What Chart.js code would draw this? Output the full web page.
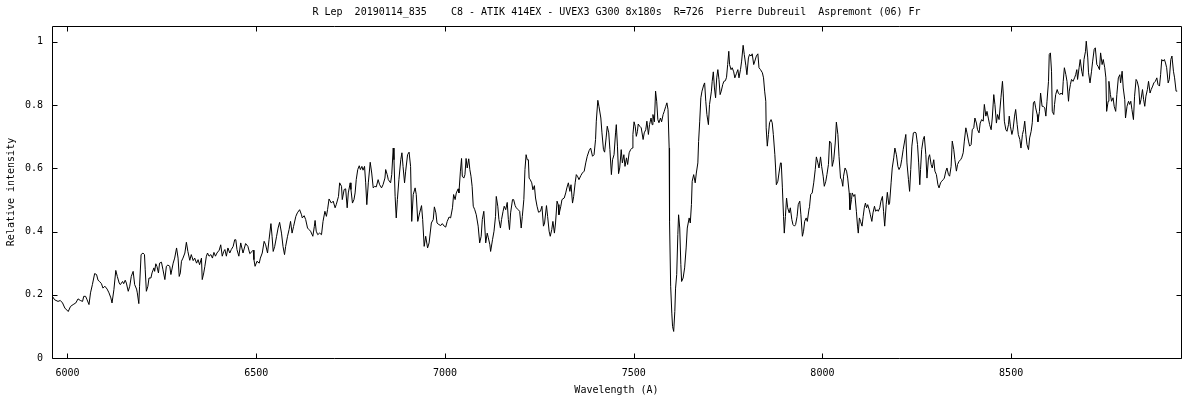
<!DOCTYPE html>
<html>
<head>
<meta charset="utf-8">
<title>R Lep spectrum</title>
<script src="https://cdn.jsdelivr.net/npm/chart.js@4.4.1/dist/chart.umd.min.js"></script>
<style>
    body { margin: 0; background: #fff; }
    #box { width: 1200px; height: 400px; }
</style>
</head>
<body>
<div id="box"><canvas id="spec" width="1200" height="400"></canvas></div>
<script>
    // 标题 / axis texts
    var chartTitle = 'R Lep  20190114_835    C8 - ATIK 414EX - UVEX3 G300 8x180s  R=726  Pierre Dubreuil  Aspremont (06) Fr';
    var xTitle = 'Wavelength (A)';
    var yTitle = 'Relative intensity';
    var xTickValues = [6000, 6500, 7000, 7500, 8000, 8500];
    var xTickLabels = ['6000', '6500', '7000', '7500', '8000', '8500'];
    var yTickValues = [0, 0.2, 0.4, 0.6, 0.8, 1];
    var yTickLabels = ['0', '0.2', '0.4', '0.6', '0.8', '1'];

    // spectrum in six pieces (wavelength A / relative intensity)
    var wave1 = [5960,5966,5975,5981,5987,5993,6002,6008,6015,6022,
        6028,6034,6040,6043,6048,6052,6057,6061,6066,6072,
        6077,6081,6085,6090,6094,6099,6105,6110,6115,6118,
        6123,6128,6132,6137,6140,6146,6149,6153,6156,6161,
        6165,6169,6174,6178,6183,6185,6189,6191,6195,6200,
        6204,6206,6209,6213,6216,6221,6224,6229,6231,6234,
        6237,6241,6244,6249,6253,6258,6262,6266,6271,6274,
        6280,6284,6289,6293,6296,6299,6302,6306,6311,6315,
        6319,6324,6328,6333,6337,6342,6346,6350,6355,6357,
        6361,6364,6368,6371,6375,6380,6384,6388,6392,6396,
        6402,6406,6410,6414,6417,6421,6425,6430,6434,6439,
        6443,6446,6449,6454];
    var flux1 = [0.195,0.184,0.179,0.182,0.174,0.158,0.147,0.163,0.169,0.174,
        0.187,0.182,0.179,0.195,0.195,0.184,0.169,0.206,0.232,0.267,
        0.264,0.246,0.242,0.235,0.221,0.227,0.218,0.206,0.190,0.174,
        0.216,0.277,0.258,0.237,0.232,0.242,0.235,0.246,0.237,0.211,
        0.227,0.258,0.274,0.232,0.218,0.206,0.172,0.227,0.327,0.332,
        0.327,0.279,0.211,0.227,0.253,0.253,0.269,0.285,0.274,0.298,
        0.290,0.269,0.300,0.303,0.279,0.248,0.290,0.294,0.290,0.264,
        0.300,0.316,0.348,0.316,0.258,0.269,0.306,0.316,0.332,0.366,
        0.337,0.309,0.327,0.308,0.316,0.300,0.311,0.295,0.316,0.248,
        0.269,0.290,0.322,0.332,0.322,0.327,0.316,0.334,0.322,0.332,
        0.341,0.358,0.322,0.337,0.343,0.322,0.348,0.332,0.343,0.353,
        0.374,0.374,0.343,0.322];

    var wave2 = [6459,6465,6472,6478,6483,6489,6492,6494,6497,6502,
        6508,6511,6516,6521,6525,6530,6534,6539,6542,6545,
        6549,6554,6558,6562,6567,6571,6575,6578,6583,6587,
        6591,6595,6599,6605,6609,6615,6620,6622,6627,6631,
        6636,6640,6644,6650,6654,6656,6659,6663,6668,6673,
        6677,6682,6686,6689,6693,6699,6704,6709,6712,6718,
        6721,6726,6728,6733,6737,6741,6744,6749,6751,6755,
        6759,6762,6765,6769,6773,6776,6780,6783,6787,6790,
        6793,6797,6802,6806,6810,6814,6818,6823,6827,6832,
        6836,6841,6843,6847,6850,6856,6859,6863,6865,6868,
        6871,6874,6878,6883,6886,6889,6893,6896,6901,6905,
        6909,6912,6916,6921,6924,6928,6933,6938,6941,6945,
        6949,6954,6958];
    var flux2 = [0.364,0.332,0.362,0.353,0.330,0.337,0.341,0.311,0.290,0.306,
        0.300,0.316,0.332,0.369,0.358,0.332,0.374,0.425,0.385,0.337,
        0.353,0.385,0.411,0.429,0.395,0.353,0.327,0.353,0.385,0.406,
        0.432,0.395,0.416,0.448,0.459,0.469,0.453,0.443,0.450,0.438,
        0.411,0.406,0.401,0.385,0.416,0.435,0.401,0.390,0.395,0.390,
        0.432,0.464,0.448,0.469,0.503,0.490,0.496,0.475,0.485,0.511,
        0.554,0.543,0.501,0.533,0.535,0.475,0.522,0.554,0.533,0.490,
        0.501,0.522,0.564,0.596,0.608,0.596,0.606,0.594,0.606,0.554,
        0.485,0.554,0.619,0.585,0.538,0.543,0.541,0.564,0.548,0.538,
        0.548,0.569,0.596,0.580,0.564,0.554,0.580,0.664,0.627,0.511,
        0.443,0.501,0.564,0.627,0.649,0.606,0.554,0.591,0.643,0.651,
        0.606,0.432,0.517,0.538,0.517,0.432,0.459,0.482,0.438,0.353,
        0.385,0.348,0.364];

    var wave3 = [6960,6964,6969,6972,6976,6979,6984,6989,6993,6998,
        7002,7006,7011,7015,7020,7023,7027,7030,7035,7037,
        7041,7044,7046,7050,7053,7056,7059,7063,7066,7069,
        7072,7075,7079,7083,7088,7092,7096,7099,7103,7105,
        7108,7112,7115,7119,7121,7126,7130,7134,7136,7140,
        7143,7147,7150,7154,7157,7161,7165,7168,7171,7174,
        7179,7182,7186,7189,7194,7198,7202,7205,7209,7212,
        7215,7218,7221,7223,7226,7230,7233,7237,7240,7244,
        7248,7253,7257,7261,7264,7269,7272,7276,7279,7283,
        7286,7290,7293,7297,7300,7302,7307,7310,7316,7320,
        7323,7327,7331,7334,7338,7341,7345,7348,7352,7355,
        7360,7364,7369,7373,7377,7382,7386,7391,7395,7399,
        7401,7405,7408,7413,7416,7420,7423,7427,7430,7434,
        7437,7441,7444,7448,7452,7454,7457,7460];
    var flux3 = [0.364,0.427,0.438,0.478,0.459,0.427,0.422,0.419,0.425,0.417,
        0.414,0.432,0.446,0.443,0.475,0.517,0.501,0.522,0.535,0.522,
        0.591,0.631,0.575,0.569,0.580,0.631,0.601,0.630,0.596,0.575,
        0.543,0.480,0.469,0.453,0.417,0.364,0.385,0.438,0.464,0.427,
        0.364,0.395,0.380,0.358,0.337,0.374,0.401,0.448,0.511,0.480,
        0.438,0.411,0.438,0.464,0.480,0.469,0.492,0.438,0.406,0.459,
        0.501,0.501,0.482,0.475,0.469,0.464,0.411,0.448,0.501,0.596,
        0.643,0.627,0.627,0.569,0.564,0.554,0.532,0.545,0.506,0.480,
        0.461,0.464,0.480,0.417,0.427,0.482,0.448,0.401,0.385,0.406,
        0.432,0.395,0.427,0.496,0.485,0.453,0.480,0.501,0.506,0.522,
        0.538,0.554,0.527,0.548,0.490,0.511,0.554,0.580,0.573,0.564,
        0.577,0.585,0.591,0.617,0.638,0.656,0.664,0.638,0.643,0.691,
        0.749,0.815,0.796,0.759,0.712,0.659,0.651,0.696,0.733,0.712,
        0.659,0.580,0.627,0.643,0.712,0.738,0.670,0.583];

    var wave4 = [7463,7467,7470,7474,7477,7481,7484,7488,7492,7496,
        7498,7501,7504,7507,7510,7512,7516,7520,7525,7528,
        7532,7535,7539,7542,7546,7549,7551,7555,7558,7561,
        7564,7567,7571,7574,7578,7581,7585,7588,7591,7594,
        7595,7598,7601,7603,7606,7609,7611,7614,7617,7619,
        7622,7625,7627,7631,7635,7639,7642,7647,7650,7653,
        7655,7659,7663,7666,7670,7672,7675,7678,7681,7686,
        7688,7691,7694,7698,7701,7706,7708,7711,7714,7717,
        7720,7723,7726,7729,7732,7736,7739,7743,7746,7749,
        7752,7754,7758,7761,7765,7768,7772,7776,7779,7783,
        7786,7790,7793,7797,7800,7804,7807,7811,7814,7818,
        7821,7825,7829,7832,7836,7841,7844,7847,7850,7851,
        7854,7857,7860,7864,7867,7870,7874,7876,7878,7882,
        7885,7889,7891,7894,7897,7899,7902,7905,7908,7912,
        7915,7919,7922,7926,7929,7933,7936,7940,7943,7947,
        7950,7953,7957,7960,7965];
    var flux4 = [0.601,0.659,0.617,0.643,0.606,0.633,0.612,0.649,0.659,0.664,
        0.707,0.747,0.733,0.701,0.717,0.740,0.733,0.728,0.691,0.712,
        0.722,0.749,0.707,0.738,0.759,0.738,0.770,0.747,0.844,0.812,
        0.754,0.744,0.759,0.747,0.770,0.780,0.796,0.807,0.786,0.664,
        0.432,0.227,0.142,0.100,0.084,0.147,0.221,0.264,0.390,0.453,
        0.411,0.295,0.242,0.253,0.285,0.348,0.411,0.443,0.427,0.485,
        0.559,0.580,0.554,0.585,0.617,0.685,0.749,0.823,0.844,0.865,
        0.870,0.812,0.770,0.738,0.802,0.844,0.875,0.905,0.854,0.823,
        0.886,0.912,0.881,0.833,0.844,0.865,0.875,0.877,0.888,0.928,
        0.970,0.928,0.912,0.918,0.905,0.886,0.899,0.912,0.886,0.912,
        0.939,0.989,0.960,0.926,0.896,0.949,0.960,0.955,0.962,0.928,
        0.939,0.955,0.962,0.918,0.912,0.902,0.886,0.844,0.812,0.728,
        0.670,0.707,0.744,0.754,0.744,0.707,0.643,0.601,0.548,0.559,
        0.585,0.617,0.617,0.538,0.448,0.395,0.448,0.506,0.475,0.459,
        0.475,0.438,0.422,0.417,0.422,0.448,0.485,0.496,0.453,0.385,
        0.401,0.432,0.443,0.432,0.475];

    var wave5 = [7966,7969,7973,7977,7981,7984,7988,7991,7995,7998,
        8002,8005,8009,8012,8016,8019,8023,8026,8030,8034,
        8037,8041,8044,8048,8051,8054,8056,8060,8064,8067,
        8071,8073,8077,8079,8083,8086,8090,8093,8095,8098,
        8101,8105,8108,8111,8114,8117,8120,8124,8127,8131,
        8134,8138,8141,8145,8148,8152,8155,8159,8162,8165,
        8169,8172,8176,8178,8182,8185,8189,8192,8196,8200,
        8203,8207,8210,8214,8217,8221,8224,8228,8231,8234,
        8237,8241,8245,8248,8252,8255,8258,8260,8263,8267,
        8270,8274,8277,8281,8284,8288,8291,8295,8298,8302,
        8306,8309,8313,8316,8320,8323,8327,8330,8334,8337,
        8341,8344,8348,8351,8355,8358,8362,8366,8369,8373,
        8376,8380,8383,8387,8390,8394,8397,8401,8404,8408,
        8411,8415,8418,8422,8426,8429,8433,8436,8440,8443,
        8447,8450,8454,8457,8461,8464,8468];
    var flux5 = [0.480,0.517,0.522,0.554,0.596,0.636,0.617,0.601,0.636,0.606,
        0.575,0.543,0.559,0.580,0.612,0.686,0.680,0.606,0.627,0.680,
        0.746,0.707,0.638,0.569,0.564,0.543,0.575,0.601,0.591,0.569,
        0.522,0.469,0.501,0.522,0.511,0.517,0.464,0.417,0.395,0.443,
        0.432,0.417,0.448,0.475,0.490,0.475,0.485,0.469,0.453,0.432,
        0.459,0.480,0.464,0.469,0.464,0.475,0.496,0.511,0.464,0.417,
        0.485,0.524,0.485,0.490,0.554,0.601,0.633,0.664,0.643,0.606,
        0.596,0.606,0.627,0.659,0.680,0.707,0.617,0.564,0.527,0.596,
        0.670,0.712,0.714,0.712,0.675,0.617,0.548,0.596,0.659,0.691,
        0.701,0.643,0.569,0.633,0.643,0.612,0.601,0.627,0.591,0.580,
        0.548,0.538,0.554,0.559,0.564,0.569,0.591,0.601,0.580,0.575,
        0.606,0.686,0.659,0.627,0.591,0.612,0.622,0.627,0.633,0.649,
        0.686,0.728,0.712,0.686,0.670,0.675,0.722,0.728,0.759,0.743,
        0.722,0.712,0.743,0.754,0.749,0.802,0.765,0.780,0.756,0.738,
        0.722,0.759,0.833,0.802,0.743,0.770,0.754];

    var wave6 = [8470,8473,8477,8479,8482,8486,8489,8493,8495,8498,
        8502,8505,8509,8512,8516,8519,8523,8526,8530,8533,
        8536,8539,8542,8546,8549,8553,8556,8559,8562,8565,
        8569,8571,8575,8578,8582,8585,8589,8592,8595,8599,
        8601,8604,8607,8609,8613,8615,8618,8622,8625,8629,
        8632,8636,8638,8641,8645,8648,8652,8654,8657,8660,
        8664,8668,8671,8674,8676,8680,8683,8687,8690,8693,
        8697,8699,8703,8705,8709,8713,8716,8720,8723,8727,
        8730,8734,8737,8741,8744,8748,8751,8753,8757,8759,
        8763,8766,8770,8773,8777,8780,8784,8788,8790,8794,
        8797,8801,8803,8807,8811,8814,8817,8820,8824,8827,
        8831,8834,8838,8841,8844,8848,8851,8854,8857,8861,
        8864,8868,8871,8875,8878,8882,8886,8889,8893,8896,
        8899,8902,8906,8909,8912,8916,8919,8923,8926,8930,
        8933,8937,8940];
    var flux6 = [0.754,0.823,0.875,0.838,0.749,0.722,0.717,0.738,0.765,0.733,
        0.707,0.722,0.765,0.786,0.738,0.707,0.691,0.664,0.707,0.722,
        0.749,0.707,0.675,0.659,0.696,0.717,0.744,0.807,0.812,0.791,
        0.770,0.747,0.780,0.838,0.796,0.796,0.791,0.765,0.812,0.875,
        0.960,0.965,0.907,0.780,0.770,0.802,0.833,0.849,0.838,0.833,
        0.838,0.833,0.875,0.918,0.896,0.875,0.812,0.844,0.865,0.881,
        0.875,0.886,0.896,0.912,0.881,0.918,0.944,0.907,0.891,0.944,
        0.970,1.002,0.949,0.902,0.870,0.907,0.939,0.976,0.981,0.928,
        0.923,0.912,0.965,0.928,0.944,0.918,0.886,0.780,0.812,0.875,
        0.833,0.812,0.823,0.796,0.780,0.833,0.886,0.896,0.870,0.907,
        0.854,0.817,0.759,0.796,0.812,0.802,0.812,0.786,0.754,0.828,
        0.881,0.875,0.854,0.802,0.817,0.849,0.817,0.796,0.828,0.849,
        0.875,0.838,0.849,0.860,0.870,0.875,0.886,0.865,0.860,0.896,
        0.944,0.939,0.944,0.933,0.918,0.870,0.881,0.944,0.955,0.907,
        0.886,0.844,0.844];

    //整理数据
    var wavelength = wave1.concat(wave2, wave3, wave4, wave5, wave6);
    var intensity = flux1.concat(flux2, flux3, flux4, flux5, flux6);
    var points = wavelength.map(function (w, i) { return { x: w, y: intensity[i] }; });

    var monoFont = { family: "'DejaVu Sans Mono', monospace", size: 10 };

    // gnuplot-like frame, inward ticks on all four sides, title
    var framePlugin = {
        id: 'frame',
        afterDraw: function (chart) {
            var ctx = chart.ctx, a = chart.chartArea, xs = chart.scales.x, ys = chart.scales.y;
            var L = Math.round(a.left) + 0.5, R = Math.round(a.right) + 0.5;
            var T = Math.round(a.top) + 0.5, B = Math.round(a.bottom) + 0.5;
            ctx.save();
            ctx.strokeStyle = '#000';
            ctx.lineWidth = 1;
            ctx.beginPath();
            ctx.moveTo(L, T); ctx.lineTo(R, T); ctx.lineTo(R, B); ctx.lineTo(L, B); ctx.closePath();
            xTickValues.forEach(function (v) {
                var px = Math.round(xs.getPixelForValue(v)) + 0.5;
                ctx.moveTo(px, B); ctx.lineTo(px, B - 5);
                ctx.moveTo(px, T); ctx.lineTo(px, T + 5);
            });
            yTickValues.forEach(function (v) {
                var py = Math.round(ys.getPixelForValue(v)) + 0.5;
                ctx.moveTo(L, py); ctx.lineTo(L + 5, py);
                ctx.moveTo(R, py); ctx.lineTo(R - 5, py);
            });
            ctx.stroke();
            ctx.fillStyle = '#000';
            ctx.font = "10px 'DejaVu Sans Mono', monospace";
            ctx.textAlign = 'center';
            ctx.textBaseline = 'middle';
            ctx.fillText(chartTitle, (a.left + a.right) / 2, 12);
            ctx.restore();
        }
    };

    var ctx = document.getElementById('spec').getContext('2d');
    var specChart = new Chart(ctx, {
        type: 'line',
        data: {
            datasets: [{
                data: points,
                borderColor: '#000',
                borderWidth: 1,
                pointRadius: 0,
                tension: 0,
                fill: false
            }]
        },
        options: {
            responsive: false,
            animation: false,
            layout: { padding: { top: 26, right: 19, left: 0, bottom: 0 } },
            plugins: { legend: { display: false }, tooltip: { enabled: false }, title: { display: false } },
            scales: {
                x: {
                    type: 'linear',
                    min: 5959,
                    max: 8950,
                    afterBuildTicks: function (s) { s.ticks = xTickValues.map(function (v) { return { value: v }; }); },
                    afterFit: function (s) { s.height = 42; },
                    grid: { display: false, drawTicks: false },
                    border: { display: false },
                    ticks: {
                        padding: 9,
                        color: '#000',
                        font: monoFont,
                        maxRotation: 0,
                        autoSkip: false,
                        callback: function (v, i) { return xTickLabels[i]; }
                    },
                    title: { display: true, text: xTitle, color: '#000', font: monoFont, padding: { top: 0, bottom: 4 } }
                },
                y: {
                    min: 0,
                    max: 1.05,
                    afterBuildTicks: function (s) { s.ticks = yTickValues.map(function (v) { return { value: v }; }); },
                    afterFit: function (s) { s.width = 52; },
                    grid: { display: false, drawTicks: false },
                    border: { display: false },
                    ticks: {
                        padding: 9,
                        color: '#000',
                        font: monoFont,
                        autoSkip: false,
                        callback: function (v, i) { return yTickLabels[i]; }
                    },
                    title: { display: true, text: yTitle, color: '#000', font: monoFont, padding: { top: 5, bottom: 0 } }
                }
            }
        },
        plugins: [framePlugin]
    });
</script>
</body>
</html>
